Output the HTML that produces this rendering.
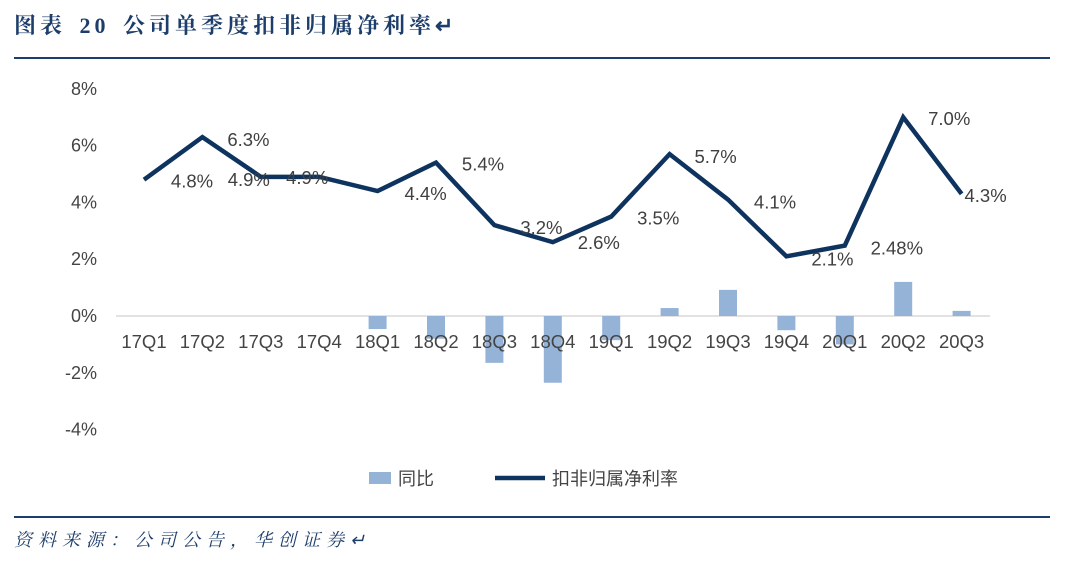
<!DOCTYPE html>
<html><head><meta charset="utf-8"><style>
body{margin:0;width:1080px;height:573px;background:#fff;overflow:hidden;position:relative;font-family:"Liberation Sans","Noto Sans CJK SC",sans-serif}
.t{position:absolute;left:14px;top:9px;font:bold 22px "Liberation Serif","Noto Serif CJK SC",serif;color:#1d3d6b;letter-spacing:4px;word-spacing:4px}
.s{position:absolute;left:14px;top:526px;font:italic 18px "Liberation Serif","Noto Serif CJK SC",serif;color:#1d3d6b;letter-spacing:6px}
.hr{position:absolute;left:14px;width:1036px;height:2px;background:#1d3d6b}
</style></head><body>
<div class="t">图表 20 公司单季度扣非归属净利率↵</div>
<div class="hr" style="top:57px"></div>
<div class="hr" style="top:516px"></div>
<div class="s">资料来源：公司公告，华创证券↵</div>
<svg id="c" width="1080" height="573" style="position:absolute;left:0;top:0"></svg>
<script>
const categories=["17Q1","17Q2","17Q3","17Q4","18Q1","18Q2","18Q3","18Q4","19Q1","19Q2","19Q3","19Q4","20Q1","20Q2","20Q3"];
const yoyValues=[null,null,null,null,-0.46,-0.8,-1.65,-2.35,-0.85,0.28,0.92,-0.5,-1.0,1.2,0.18];
const marginValues=[4.8,6.3,4.9,4.9,4.4,5.4,3.2,2.6,3.5,5.7,4.1,2.1,2.48,7.0,4.3];
const marginLabels=["4.8%","6.3%","4.9%","4.9%","4.4%","5.4%","3.2%","2.6%","3.5%","5.7%","4.1%","2.1%","2.48%","7.0%","4.3%"];
const yTicks=[8,6,4,2,0,-2,-4];
const labelDx=[48,46,-12,-12,48,47,47,46,47,46,47,46,52,46,24];
const labelDy=[1,2,2,0,2,1,2,0,1,2,2,2,2,1,1];
const NS="http://www.w3.org/2000/svg",svg=document.getElementById('c');
const x=i=>144+i*58.4, y=v=>316-v*28.4;
function el(t,a,txt){const e=document.createElementNS(NS,t);for(const k in a)e.setAttribute(k,a[k]);if(txt!=null)e.textContent=txt;svg.appendChild(e);return e;}
yTicks.forEach(v=>{const e=el('text',{x:97,y:y(v)+6,'text-anchor':'end','font-size':18,fill:'#444'},v+'%');

});
const ax=el('line',{x1:116,x2:990,y1:316,y2:316,stroke:'#d9d9d9','stroke-width':1.5});


yoyValues.forEach((v,i)=>{if(v==null)return;const r=el('rect',{x:x(i)-9,width:18,y:Math.min(y(v),316),height:Math.abs(y(v)-316),fill:'#95b3d7'});

});
categories.forEach((c,i)=>{const e=el('text',{x:x(i),y:348,'text-anchor':'middle','font-size':18.5,fill:'#444'},c);

});
const p=el('polyline',{points:marginValues.map((v,i)=>x(i)+','+y(v)).join(' '),fill:'none',stroke:'#0d335e','stroke-width':4.5,'stroke-linejoin':'miter'});


marginValues.forEach((v,i)=>{const e=el('text',{x:x(i)+labelDx[i],y:y(v)+labelDy[i]+7,'text-anchor':'middle','font-size':18.5,fill:'#404040'},marginLabels[i]);

});
const l1=el('rect',{x:369,y:472,width:22,height:12,fill:'#95b3d7'});


const t1=el('text',{x:398,y:485,'font-size':18,fill:'#444'},'同比');


const l2=el('line',{x1:495,x2:545,y1:478,y2:478,stroke:'#0d335e','stroke-width':4.5});


const t2=el('text',{x:552,y:485,'font-size':18,fill:'#444'},'扣非归属净利率');


</script>
</body></html>
